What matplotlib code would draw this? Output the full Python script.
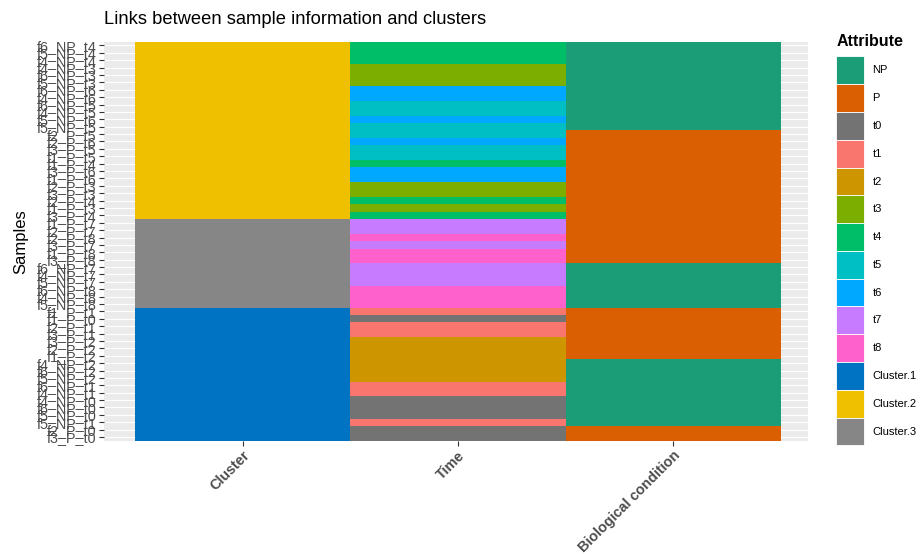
import matplotlib
matplotlib.use("Agg")
import matplotlib.pyplot as plt
from matplotlib.patches import Patch

plt.rcParams['font.family'] = ['Liberation Sans', 'DejaVu Sans']

# samples listed from top row to bottom row
samples = [
    "f6_NP_t4", "f5_NP_t4", "f4_NP_t4", "f4_NP_t3", "f6_NP_t3", "f5_NP_t3",
    "f6_NP_t6", "f4_NP_t6", "f6_NP_t5", "f4_NP_t5", "f5_NP_t6", "f5_NP_t5",
    "f2_P_t5", "f2_P_t6", "f3_P_t5", "f1_P_t5", "f1_P_t4", "f3_P_t6",
    "f1_P_t6", "f2_P_t3", "f3_P_t3", "f2_P_t4", "f1_P_t3", "f3_P_t4",
    "f1_P_t7", "f2_P_t7", "f2_P_t8", "f3_P_t7", "f1_P_t8", "f3_P_t8",
    "f6_NP_t7", "f4_NP_t7", "f5_NP_t7", "f6_NP_t8", "f4_NP_t8", "f5_NP_t8",
    "f1_P_t1", "f1_P_t0", "f2_P_t1", "f3_P_t1", "f3_P_t2", "f2_P_t2",
    "f1_P_t2", "f4_NP_t2", "f6_NP_t2", "f5_NP_t2", "f6_NP_t1", "f4_NP_t1",
    "f4_NP_t0", "f6_NP_t0", "f5_NP_t0", "f5_NP_t1", "f2_P_t0", "f3_P_t0",
]
clusters = ["Cluster.2"] * 24 + ["Cluster.3"] * 12 + ["Cluster.1"] * 18
times = [s.split("_")[2] for s in samples]
conditions = [s.split("_")[1] for s in samples]

columns = ["Cluster", "Time", "Biological condition"]
attributes = ["NP", "P", "t0", "t1", "t2", "t3", "t4", "t5", "t6", "t7", "t8",
              "Cluster.1", "Cluster.2", "Cluster.3"]
attr_colors = ["#1B9E77", "#D95F02", "#737373", "#F8766D", "#CD9600", "#7CAE00",
               "#00BE67", "#00BFC4", "#00A9FF", "#C77CFF", "#FF61CC",
               "#0073C2", "#EFC000", "#868686"]
color_of = dict(zip(attributes, attr_colors))

fig = plt.figure(figsize=(9.22, 5.54), dpi=100)
ax = fig.add_axes([104 / 922, 1 - 440.7 / 554, (808 - 104) / 922, (440.7 - 41.7) / 554])
ax.set_facecolor("#EBEBEB")

n = len(samples)
ypos = list(range(n))
for j, col in enumerate([clusters, times, conditions]):
    ax.barh(ypos, 1.0, left=j - 0.5, height=1.0,
            color=[color_of[v] for v in col], linewidth=0, zorder=2)

ax.set_yticks(ypos)
ax.set_yticklabels(samples, fontsize=10.4, color="#4D4D4D")
ax.set_ylim(n - 0.5, -0.5)
ax.set_xticks(range(len(columns)))
ax.set_xticklabels(columns, rotation=45, ha="right", va="top", rotation_mode="anchor",
                   fontsize=10.4, fontweight="bold", color="#4D4D4D")
ax.set_xlim(-0.644, 2.625)
ax.grid(True, color="white", linewidth=0.8, zorder=0)
ax.set_axisbelow(True)
ax.tick_params(length=3.5, width=0.8, color="#333333", pad=2)
for s in ax.spines.values():
    s.set_visible(False)

ax.set_ylabel("Samples", fontsize=12, labelpad=6)
ax.set_title("Links between sample information and clusters", loc="left",
             fontsize=13.2, pad=13)

handles = [Patch(facecolor=c, edgecolor="white", linewidth=0.6) for c in attr_colors]
leg = fig.legend(handles, attributes, title="Attribute", loc="upper left",
                 bbox_to_anchor=(832 / 922, 1 - 30 / 554), frameon=False,
                 fontsize=8, handlelength=2.5, handleheight=3.47,
                 labelspacing=0.0, handletextpad=0.75, borderaxespad=0)
leg.get_title().set_fontweight("bold")
leg.get_title().set_fontsize(11.5)
leg._legend_box.align = "left"
leg._legend_box.sep = 5

fig.savefig("out.png", dpi=100)
